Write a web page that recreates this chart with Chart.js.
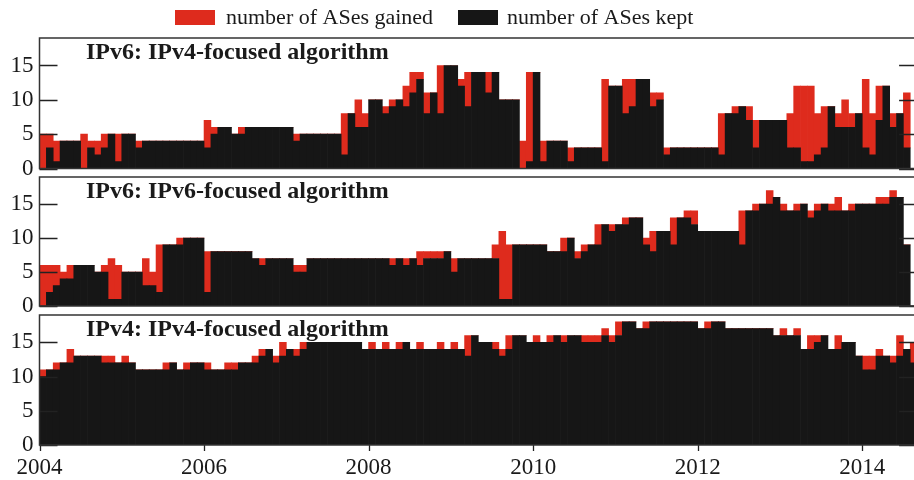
<!DOCTYPE html>
<html>
<head>
<meta charset="utf-8">
<script src="https://cdn.jsdelivr.net/npm/chart.js@4.4.1/dist/chart.umd.min.js"></script>
<style>
  html, body { margin: 0; padding: 0; background: #fff; overflow: hidden; }
  #wrap { position: relative; width: 914px; height: 480px; overflow: hidden; }
  #wrap canvas { position: absolute; left: 0; }
</style>
</head>
<body>
<div id="wrap">
  <canvas id="p1" width="920" height="193" style="top:0px"></canvas>
  <canvas id="p2" width="920" height="177" style="top:153px"></canvas>
  <canvas id="p3" width="920" height="189" style="top:291px"></canvas>
</div>
<script>
// monthly bars, Jan 2004 .. Aug 2014
var startYear = 2004;
var monthCount = 128;
var months = [];
for (var i = 0; i < monthCount; i++) months.push(startYear + (i + 0.5) / 12);

var yearTicks = [2004, 2006, 2008, 2010, 2012, 2014];
var countTicks = [0, 5, 10, 15];
var seriesNames = ["number of ASes gained", "number of ASes kept"];
var panelTitles = [
  "IPv6: IPv4-focused algorithm",
  "IPv6: IPv6-focused algorithm",
  "IPv4: IPv4-focused algorithm"
];

// one row per year
var keptV6a = [
  0, 3, 1, 4, 4, 4, 0, 3, 2, 3, 5, 1,
  5, 5, 3, 4, 4, 4, 4, 4, 4, 4, 4, 4,
  3, 5, 6, 6, 5, 5, 6, 6, 6, 6, 6, 6,
  6, 4, 5, 5, 5, 5, 5, 5, 2, 8, 6, 6,
  10, 10, 8, 9, 10, 9, 11, 13, 8, 11, 8, 15,
  15, 12, 9, 14, 14, 11, 14, 10, 10, 10, 0, 1,
  14, 1, 4, 4, 4, 1, 3, 3, 3, 3, 1, 12,
  12, 8, 9, 13, 13, 9, 10, 2, 3, 3, 3, 3,
  3, 3, 3, 2, 8, 8, 9, 7, 3, 7, 7, 7,
  7, 3, 3, 1, 1, 2, 3, 9, 6, 6, 6, 8,
  3, 2, 7, 12, 6, 8, 3, 0
];
var gainedV6a = [
  5, 2, 3, 0, 0, 0, 5, 1, 2, 2, 0, 4,
  0, 0, 1, 0, 0, 0, 0, 0, 0, 0, 0, 0,
  4, 1, 0, 0, 0, 1, 0, 0, 0, 0, 0, 0,
  0, 1, 0, 0, 0, 0, 0, 0, 6, 0, 4, 2,
  0, 0, 1, 1, 0, 3, 3, 1, 3, 0, 7, 0,
  0, 1, 5, 0, 0, 3, 0, 0, 0, 0, 4, 13,
  0, 3, 0, 0, 0, 2, 0, 0, 0, 0, 12, 0,
  0, 5, 4, 0, 0, 2, 1, 1, 0, 0, 0, 0,
  0, 0, 0, 6, 0, 1, 0, 2, 4, 0, 0, 0,
  0, 5, 9, 11, 11, 6, 6, 0, 2, 4, 2, 0,
  10, 6, 5, 0, 2, 0, 8, 0
];

var keptV6b = [
  0, 2, 3, 4, 4, 6, 6, 6, 5, 5, 1, 1,
  5, 5, 5, 3, 3, 2, 9, 9, 9, 10, 10, 10,
  2, 8, 8, 8, 8, 8, 8, 7, 6, 7, 7, 7,
  7, 5, 5, 7, 7, 7, 7, 7, 7, 7, 7, 7,
  7, 7, 7, 6, 7, 6, 7, 6, 7, 7, 7, 8,
  5, 7, 7, 7, 7, 7, 7, 1, 1, 9, 9, 9,
  9, 9, 8, 8, 8, 10, 7, 8, 9, 9, 12, 11,
  12, 12, 13, 13, 9, 8, 11, 11, 9, 13, 13, 12,
  11, 11, 11, 11, 11, 11, 9, 14, 14, 15, 15, 16,
  14, 14, 14, 15, 13, 14, 15, 14, 14, 14, 14, 15,
  15, 15, 15, 15, 16, 16, 9, 0
];
var gainedV6b = [
  6, 4, 3, 1, 2, 0, 0, 0, 0, 1, 6, 5,
  0, 0, 0, 4, 2, 7, 0, 0, 1, 0, 0, 0,
  6, 0, 0, 0, 0, 0, 0, 0, 1, 0, 0, 0,
  0, 1, 1, 0, 0, 0, 0, 0, 0, 0, 0, 0,
  0, 0, 0, 1, 0, 1, 0, 2, 1, 1, 1, 0,
  2, 0, 0, 0, 0, 0, 2, 10, 8, 0, 0, 0,
  0, 0, 0, 0, 2, 0, 1, 1, 0, 3, 0, 1,
  0, 1, 0, 0, 1, 3, 0, 0, 4, 0, 1, 2,
  0, 0, 0, 0, 0, 0, 5, 0, 1, 0, 2, 0,
  1, 0, 1, 0, 1, 1, 0, 1, 2, 0, 1, 0,
  0, 0, 1, 1, 1, 0, 0, 0
];

var keptV4 = [
  10, 11, 11, 12, 12, 13, 13, 13, 13, 12, 12, 12,
  12, 12, 11, 11, 11, 11, 11, 12, 11, 11, 12, 12,
  11, 11, 11, 11, 11, 12, 12, 12, 13, 14, 12, 13,
  14, 13, 14, 15, 15, 15, 15, 15, 15, 15, 15, 14,
  14, 14, 14, 14, 14, 15, 14, 14, 14, 14, 14, 14,
  14, 14, 13, 16, 15, 15, 14, 13, 14, 16, 16, 15,
  15, 15, 15, 16, 15, 16, 16, 15, 15, 15, 16, 15,
  16, 18, 18, 17, 17, 18, 18, 18, 18, 18, 18, 18,
  17, 17, 18, 18, 17, 17, 17, 17, 17, 17, 17, 16,
  16, 16, 16, 14, 14, 15, 16, 14, 14, 15, 15, 13,
  11, 11, 13, 13, 12, 13, 14, 12
];
var gainedV4 = [
  1, 0, 1, 0, 2, 0, 0, 0, 0, 1, 1, 0,
  1, 0, 0, 0, 0, 0, 1, 0, 0, 1, 0, 0,
  1, 0, 0, 1, 1, 0, 0, 1, 1, 0, 1, 2,
  0, 1, 1, 0, 0, 0, 0, 0, 0, 0, 0, 0,
  1, 0, 1, 0, 1, 0, 0, 1, 0, 0, 1, 0,
  1, 0, 3, 0, 0, 0, 1, 1, 2, 0, 0, 0,
  1, 0, 1, 0, 1, 0, 0, 1, 1, 1, 1, 1,
  2, 0, 0, 0, 1, 0, 0, 0, 0, 0, 0, 0,
  0, 1, 0, 0, 0, 0, 0, 0, 0, 0, 0, 0,
  1, 0, 1, 0, 2, 1, 0, 0, 2, 0, 0, 0,
  2, 2, 1, 0, 1, 3, 0, 3
];

var RED = "#de2b1d";
var BLACK = "#161616";
var INK = "#1a1a1a";
var SERIF = '"Liberation Serif", "DejaVu Serif", serif';

// frame, inward ticks, panel title, legend
var panelDeco = {
  id: "panelDeco",
  afterDatasetsDraw: function(chart, args, opts) {
    var ctx = chart.ctx, a = chart.chartArea, sc = chart.scales;
    ctx.save();
    ctx.strokeStyle = "#222";
    ctx.lineWidth = 1.3;
    ctx.beginPath();
    countTicks.forEach(function(v) {
      var y = Math.round(sc.y.getPixelForValue(v)) + 0.5;
      ctx.moveTo(a.left, y); ctx.lineTo(a.left + 18, y);
      ctx.moveTo(a.right, y); ctx.lineTo(a.right - 18, y);
    });
    if (opts.xTicks) {
      yearTicks.forEach(function(v) {
        var x = Math.round(sc.x.getPixelForValue(v)) + 0.5;
        ctx.moveTo(x, a.bottom); ctx.lineTo(x, a.bottom + 6);
      });
    }
    ctx.stroke();
    ctx.strokeStyle = "#333";
    ctx.lineWidth = 1.5;
    ctx.strokeRect(a.left, a.top, a.right - a.left, a.bottom - a.top);

    ctx.fillStyle = INK;
    ctx.font = "bold 24px " + SERIF;
    ctx.textBaseline = "alphabetic";
    ctx.textAlign = "left";
    ctx.fillText(opts.title, 86, a.top + 21);

    if (opts.legend) {
      ctx.font = "22px " + SERIF;
      ctx.fillStyle = RED;
      ctx.fillRect(175, 10, 40, 15);
      ctx.fillStyle = BLACK;
      ctx.fillRect(458, 10, 40, 15);
      ctx.fillStyle = INK;
      ctx.fillText(seriesNames[0], 226, 24);
      ctx.fillText(seriesNames[1], 507, 24);
    }
    ctx.restore();
  }
};

function makePanel(id, kept, gained, title, opts) {
  return new Chart(document.getElementById(id), {
    type: "bar",
    data: {
      labels: months,
      datasets: [
        { label: seriesNames[1], data: kept, backgroundColor: BLACK },
        { label: seriesNames[0], data: gained, backgroundColor: RED }
      ]
    },
    options: {
      responsive: false,
      animation: false,
      events: [],
      barPercentage: 1,
      categoryPercentage: 1,
      borderWidth: 0,
      layout: { padding: { top: opts.padTop, right: 2.9, bottom: opts.padBottom, left: 0 } },
      plugins: {
        legend: { display: false },
        tooltip: { enabled: false },
        panelDeco: { title: title, legend: !!opts.legend, xTicks: !!opts.xAxis }
      },
      scales: {
        x: {
          type: "linear",
          stacked: true,
          offset: false,
          display: !!opts.xAxis,
          min: startYear,
          max: startYear + monthCount / 12,
          grid: { display: false, drawTicks: false, offset: false },
          border: { display: false },
          afterBuildTicks: function(s) { s.ticks = yearTicks.map(function(v) { return { value: v }; }); },
          afterFit: function(s) { s.height = opts.xAxis ? 35 : 0; },
          ticks: {
            autoSkip: false, maxRotation: 0, padding: 9, color: INK,
            font: { family: SERIF, size: 23 },
            callback: function(v) { return String(v); }
          }
        },
        y: {
          stacked: true,
          min: 0,
          max: 19,
          grid: { display: false, drawTicks: false },
          border: { display: false },
          afterBuildTicks: function(s) { s.ticks = countTicks.map(function(v) { return { value: v }; }); },
          afterFit: function(s) { s.width = 39.5; },
          ticks: {
            padding: 6, color: INK,
            font: { family: SERIF, size: 23 },
            callback: function(v) { return String(v); }
          }
        }
      }
    },
    plugins: [panelDeco]
  });
}

// plot areas: 38-168.5, 177-306, 315-445
makePanel("p1", keptV6a, gainedV6a, panelTitles[0], { padTop: 38, padBottom: 24.5, legend: true });
makePanel("p2", keptV6b, gainedV6b, panelTitles[1], { padTop: 24, padBottom: 24 });
makePanel("p3", keptV4, gainedV4, panelTitles[2], { padTop: 24, padBottom: 0, xAxis: true });
</script>
</body>
</html>
